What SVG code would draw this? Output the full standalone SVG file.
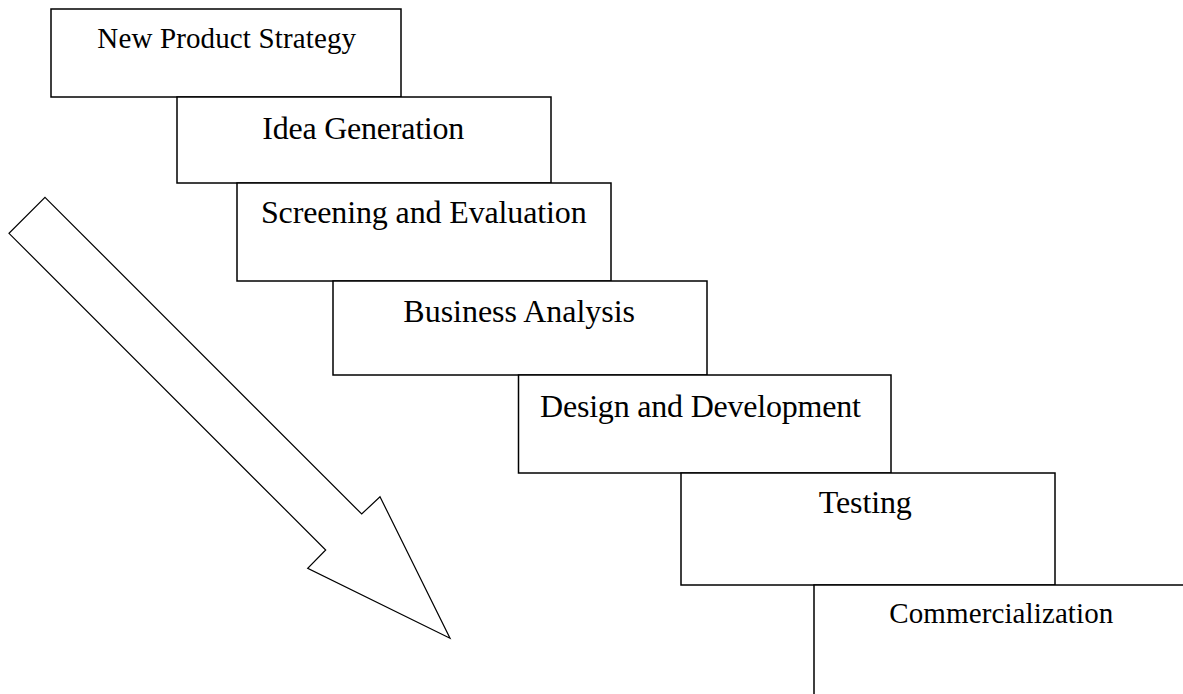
<svg xmlns="http://www.w3.org/2000/svg" width="1183" height="694" viewBox="0 0 1183 694">
  <style>
    .step { fill: #ffffff; stroke: #000000; stroke-width: 1.5; }
    .label { font-family: "Liberation Serif", "Times New Roman", serif; font-size: 32px; fill: #000000; text-anchor: middle; }
    .small { font-size: 29px; }
    .arrow { fill: #ffffff; stroke: #000000; stroke-width: 1.2; stroke-linejoin: miter; }
  </style>
  <rect width="1183" height="694" fill="#ffffff"/>

  <!-- staircase of process stages -->
  <g id="new-product-strategy">
    <rect class="step" x="51" y="9" width="350" height="88"/>
    <text class="label small" x="226.7" y="48.3" textLength="258.7" lengthAdjust="spacing">New Product Strategy</text>
  </g>
  <g id="idea-generation">
    <rect class="step" x="177" y="97" width="374" height="86"/>
    <text class="label" x="363.3" y="139.3" textLength="202" lengthAdjust="spacing">Idea Generation</text>
  </g>
  <g id="screening-evaluation">
    <rect class="step" x="237" y="183" width="374" height="98"/>
    <text class="label" x="423.8" y="222.7" textLength="325.7" lengthAdjust="spacing">Screening and Evaluation</text>
  </g>
  <g id="business-analysis">
    <rect class="step" x="333" y="281" width="374" height="94"/>
    <text class="label" x="519.2" y="321.7" textLength="231.7" lengthAdjust="spacing">Business Analysis</text>
  </g>
  <g id="design-development">
    <rect class="step" x="518.5" y="375" width="372.5" height="98"/>
    <text class="label" x="700.5" y="417.3" textLength="321" lengthAdjust="spacing">Design and Development</text>
  </g>
  <g id="testing">
    <rect class="step" x="681" y="473" width="374" height="112"/>
    <text class="label" x="865.3" y="513" textLength="93" lengthAdjust="spacing">Testing</text>
  </g>
  <g id="commercialization">
    <rect class="step" x="814" y="585" width="380" height="120"/>
    <text class="label small" x="1001.3" y="622.7" textLength="224" lengthAdjust="spacing">Commercialization</text>
  </g>

  <!-- direction of flow -->
  <g id="connectors">
    <polygon class="arrow" points="45,197.3 361.7,514 380,496.7 450,638.3 307.7,568.3 325.7,550 9,233.3"/>
  </g>
</svg>
